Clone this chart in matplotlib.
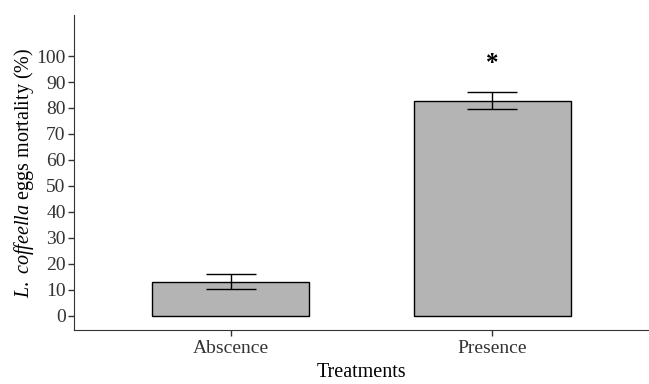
import matplotlib
matplotlib.use('Agg')
import matplotlib.pyplot as plt

plt.rcParams['font.family'] = ['Liberation Serif', 'DejaVu Serif']
plt.rcParams['mathtext.fontset'] = 'custom'
plt.rcParams['mathtext.rm'] = 'Liberation Serif'
plt.rcParams['mathtext.it'] = 'Liberation Serif:italic'

treatments = ['Abscence', 'Presence']
mortality = [13.1, 82.7]
err_low = [2.8, 3.2]
err_high = [3.1, 3.4]
yticks = list(range(0, 101, 10))

fig = plt.figure(figsize=(6.49, 3.84), dpi=100)
ax = fig.add_axes([0.114, 0.141, 0.886, 0.820])

x = list(range(len(treatments)))
ax.bar(x, mortality, width=0.6, color='#b4b4b4', edgecolor='black', linewidth=1.0, zorder=2)
ax.errorbar(x, mortality, yerr=[err_low, err_high], fmt='none', ecolor='black',
            elinewidth=1.0, capsize=18, capthick=1.0, zorder=3)
ax.text(1, 97, '*', ha='center', va='center', fontsize=18, fontweight='bold')

ax.set_xlim(-0.6, 1.6)
ax.set_ylim(-5.4, 115.8)
ax.set_yticks(yticks)
ax.set_xticks(x)
ax.set_xticklabels(treatments)
ax.tick_params(axis='both', labelsize=14, direction='out', length=4, width=1,
               colors='#333333', labelcolor='#333333')
ax.tick_params(axis='y', pad=2)
ax.spines['top'].set_visible(False)
ax.spines['right'].set_visible(False)
ax.spines['left'].set_color('#333333')
ax.spines['bottom'].set_color('#333333')
ax.set_xlabel('Treatments', fontsize=14.5, labelpad=4)
ax.set_ylabel(r'$\it{L.\ coffeella}$ eggs mortality (%)', fontsize=14.5, labelpad=0)

fig.savefig('out.png', dpi=100)
